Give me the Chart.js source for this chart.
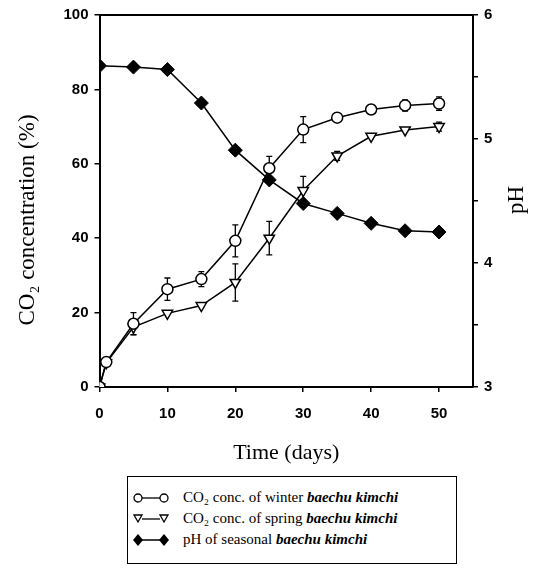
<!DOCTYPE html>
<html>
<head>
<meta charset="utf-8">
<script src="https://cdn.jsdelivr.net/npm/chart.js@4.4.1/dist/chart.umd.min.js"></script>
<style>
  html, body { margin: 0; padding: 0; background: #fff; }
  #wrap { position: relative; width: 540px; height: 575px; }
  #c { position: absolute; left: 0; top: 0; }
  #legend {
    position: absolute; left: 127px; top: 476px; width: 330px; height: 88px;
    border: 1.5px solid #000; box-sizing: border-box;
    font-family: "Liberation Serif", "Times New Roman", serif; font-size: 15px; color: #000;
    padding-top: 10px;
  }
  .row { display: flex; align-items: center; height: 21px; }
  .row svg { margin-left: 5px; margin-right: 13px; }
  .row i { font-weight: bold; }
</style>
</head>
<body>
<div id="wrap">
  <canvas id="c" width="540" height="470"></canvas>
  <div id="legend"></div>
</div>
<script>
// ---- data ----
const co2Days = [0, 1, 5, 10, 15, 20, 25, 30, 35, 40, 45, 50];
const winterCO2 = [0, 6.7, 17, 26.3, 29, 39.3, 58.8, 69.2, 72.4, 74.6, 75.7, 76.2];
const winterErr = [0, 0.8, 3, 3, 2, 4.3, 3.2, 3.5, 1.2, 1.2, 1.5, 1.8];
const springCO2 = [0, 6.5, 16.1, 19.8, 21.9, 28.1, 40, 52.8, 62.1, 67.4, 69.1, 70];
const springErr = [0, 0.8, 2, 0.8, 0.8, 5, 4.5, 3.8, 1.2, 0.8, 0.8, 1.2];
const phDays = [0, 5, 10, 15, 20, 25, 30, 35, 40, 45, 50];
const seasonalPH = [5.59, 5.58, 5.56, 5.29, 4.91, 4.67, 4.48, 4.40, 4.32, 4.26, 4.25];
const xTicks = [0, 10, 20, 30, 40, 50];
const leftTickLabels = [0, 20, 40, 60, 80, 100];
const rightTickLabels = [3, 4, 5, 6];
const leftTitle = 'CO\u2082 concentration (%)';
const rightTitle = 'pH';
const legendLabels = [
  ['CO\u2082 conc. of winter ', 'baechu kimchi'],
  ['CO\u2082 conc. of spring ', 'baechu kimchi'],
  ['pH of seasonal ', 'baechu kimchi']
];
const errors = [winterErr, springErr, null];

const toXY = (xs, ys) => xs.map((x, i) => ({ x: x, y: ys[i] }));
const serif = '"Liberation Serif", "Times New Roman", serif';

const errorBars = {
  id: 'errorBars',
  beforeDatasetsDraw(chart) {
    const ctx = chart.ctx;
    ctx.save();
    ctx.strokeStyle = '#000';
    ctx.lineWidth = 1.3;
    chart.data.datasets.forEach((ds, di) => {
      const err = errors[di];
      if (!err) return;
      const ys = chart.scales[ds.yAxisID];
      const xs = chart.scales.x;
      ds.data.forEach((p, i) => {
        const e = err[i];
        if (!e || e < 1) return;
        const px = xs.getPixelForValue(p.x);
        const top = ys.getPixelForValue(p.y + e);
        const bot = ys.getPixelForValue(p.y - e);
        ctx.beginPath();
        ctx.moveTo(px, top); ctx.lineTo(px, bot);
        ctx.moveTo(px - 3, top); ctx.lineTo(px + 3, top);
        ctx.moveTo(px - 3, bot); ctx.lineTo(px + 3, bot);
        ctx.stroke();
      });
    });
    ctx.restore();
  }
};

const frame = {
  id: 'frame',
  afterDraw(chart) {
    const a = chart.chartArea, ctx = chart.ctx;
    ctx.save();
    ctx.strokeStyle = '#000';
    ctx.lineWidth = 2;
    ctx.beginPath();
    ctx.moveTo(a.left, a.top); ctx.lineTo(a.right, a.top);
    ctx.stroke();
    // axis titles, both reading bottom-to-top
    ctx.fillStyle = '#000';
    ctx.textAlign = 'center';
    ctx.textBaseline = 'middle';
    ctx.font = '23px ' + serif;
    ctx.translate(28, 220);
    ctx.rotate(-Math.PI / 2);
    ctx.fillText(leftTitle, 0, 0);
    ctx.setTransform(1, 0, 0, 1, 0, 0);
    ctx.font = '23px ' + serif;
    ctx.translate(517, 200);
    ctx.rotate(-Math.PI / 2);
    ctx.fillText(rightTitle, 0, 0);
    ctx.restore();
  }
};

const tickFont = { family: '"Liberation Sans", Arial, sans-serif', size: 15, weight: 'bold' };

new Chart(document.getElementById('c'), {
  type: 'line',
  data: {
    datasets: [
      {
        label: 'winter', data: toXY(co2Days, winterCO2), yAxisID: 'y',
        borderColor: '#000', borderWidth: 1.5, pointStyle: 'circle', pointRadius: 5.5,
        pointBackgroundColor: '#fff', pointBorderColor: '#000', pointBorderWidth: 1.5
      },
      {
        label: 'spring', data: toXY(co2Days, springCO2), yAxisID: 'y',
        borderColor: '#000', borderWidth: 1.5, pointStyle: 'triangle', pointRotation: 180, pointRadius: 6,
        pointBackgroundColor: '#fff', pointBorderColor: '#000', pointBorderWidth: 1.5
      },
      {
        label: 'pH', data: toXY(phDays, seasonalPH), yAxisID: 'y1',
        borderColor: '#000', borderWidth: 1.5, pointStyle: 'rectRot', pointRadius: 7,
        pointBackgroundColor: '#000', pointBorderColor: '#000', pointBorderWidth: 1
      }
    ]
  },
  options: {
    responsive: false, animation: false,
    layout: { padding: { top: 11, left: 0, right: 0, bottom: 0 } },
    plugins: { legend: { display: false }, tooltip: { enabled: false } },
    scales: {
      x: {
        type: 'linear', min: 0, max: 55,
        afterBuildTicks: s => { s.ticks = xTicks.map(v => ({ value: v })); },
        afterFit: s => { s.height = 83; },
        grid: { drawOnChartArea: false, drawTicks: true, tickLength: 5, color: '#000', lineWidth: 1.5 },
        border: { color: '#000', width: 2 },
        ticks: { color: '#000', font: tickFont, padding: 13 },
        title: { display: true, text: 'Time (days)', color: '#000', font: { family: serif, size: 22 }, padding: { top: 8 } }
      },
      y: {
        position: 'left', min: 0, max: 100,
        afterBuildTicks: s => { s.ticks = leftTickLabels.map(v => ({ value: v })); },
        afterFit: s => { s.width = 99.5; },
        grid: { drawOnChartArea: false, drawTicks: true, tickLength: 5, color: '#000', lineWidth: 1.5 },
        border: { color: '#000', width: 2 },
        ticks: { color: '#000', font: tickFont, padding: 6 },
        title: { display: false }
      },
      y1: {
        position: 'right', min: 3, max: 6,
        afterBuildTicks: s => { const t = []; for (let v = 3; v <= 6.001; v += 0.5) t.push({ value: Math.round(v * 10) / 10 }); s.ticks = t; },
        afterFit: s => { s.width = 67; },
        grid: { drawOnChartArea: false, drawTicks: true, tickLength: 5, color: '#000', lineWidth: 1.5 },
        border: { color: '#000', width: 2 },
        ticks: { color: '#000', font: tickFont, padding: 6, callback: v => rightTickLabels.includes(v) ? String(v) : '' },
        title: { display: false }
      }
    }
  },
  plugins: [errorBars, frame]
});

// ---- legend (HTML) ----
const markers = [
  '<circle cx="5" cy="8" r="4" fill="#fff" stroke="#000" stroke-width="1.3"/><circle cx="31" cy="8" r="4" fill="#fff" stroke="#000" stroke-width="1.3"/><line x1="9" y1="8" x2="27" y2="8" stroke="#000" stroke-width="1.3"/>',
  '<polygon points="1,4 9,4 5,11" fill="#fff" stroke="#000" stroke-width="1.3"/><polygon points="27,4 35,4 31,11" fill="#fff" stroke="#000" stroke-width="1.3"/><line x1="9" y1="8" x2="27" y2="8" stroke="#000" stroke-width="1.3"/>',
  '<polygon points="5,2 10,8 5,14 0,8" fill="#000"/><polygon points="31,2 36,8 31,14 26,8" fill="#000"/><line x1="8" y1="8" x2="28" y2="8" stroke="#000" stroke-width="1.5"/>'
];
const lg = document.getElementById('legend');
legendLabels.forEach((l, i) => {
  const row = document.createElement('div');
  row.className = 'row';
  row.innerHTML = '<svg width="37" height="16">' + markers[i] + '</svg><span>' + l[0] + '<i>' + l[1] + '</i></span>';
  lg.appendChild(row);
});
</script>
</body>
</html>
